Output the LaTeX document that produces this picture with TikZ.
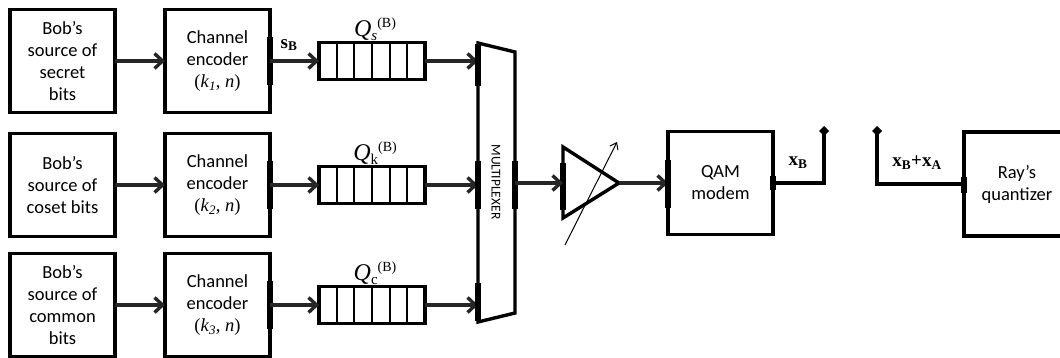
\documentclass[tikz,border=0pt]{standalone}
\usepackage{fontspec}
\setmainfont{Carlito}
\newfontfamily\serif{Liberation Serif}
\usetikzlibrary{arrows.meta}
\newcommand{\qlab}[1]{{\serif\fontsize{24}{24}\selectfont\itshape Q}\raisebox{-4pt}{\serif\fontsize{15}{15}\selectfont #1}\raisebox{9pt}{\serif\fontsize{14}{14}\selectfont(B)}}
\tikzset{
  box/.style={draw, line width=3.4pt, minimum width=105pt, minimum height=103pt, inner sep=0pt, outer sep=0pt, align=center, font=\fontsize{18.5}{22}\selectfont},
  queue/.style={draw, line width=3.4pt, minimum width=106pt, minimum height=37pt, inner sep=0pt, outer sep=0pt},
  link/.style={-{Straight Barb[length=8pt,width=15pt]}, line width=3.4pt, draw=black!85},
  port/.style={line width=6.5pt},
  lbl/.style={font=\serif\fontsize{19}{19}\selectfont\bfseries, inner sep=0pt},
}

\begin{document}
\begin{tikzpicture}[x=1pt, y=-1pt]
  \useasboundingbox (0,0) rectangle (1060,358);
  \foreach \y/\src/\sub [count=\r] in {61/{Bob’s\\source of\\secret\\bits}/{\itshape s}, 185/{Bob’s\\source of\\coset bits}/k, 305/{Bob’s\\source of\\common\\bits}/c}{
    \node[box] (src\r) at (62.5,\y) {\src};
    \node[box] (enc\r) at (217.5,\y) {Channel\\encoder\\{\serif(\textit{k}\textsubscript{\textit{\r}}, \textit{n})}};
    \node[queue] (q\r) at (372,\y) {};
    \foreach \i in {1,...,5}
      \draw[line width=1.8pt] ([xshift=\i*106/6*1pt]q\r.north west) -- ([xshift=\i*106/6*1pt]q\r.south west);
    \node[inner sep=0pt] (ql\r) at (375,\y-32) {\qlab{\sub}};
    \coordinate (mux-in\r) at (478,\y);
    \draw[port] (270,\y-24) -- (270,\y+24);
    \draw[link] (src\r) -- (enc\r);
    \draw[link] (enc\r) -- (q\r);
    \draw[link] (q\r) -- (mux-in\r);
  }
  \node[lbl] (sb) at (289,45) {s\textsubscript{B}};

  \draw[line width=3.4pt] (478,43) -- (515,52) -- (515,313) -- (478,322) -- cycle;
  \node[rotate=-90, font=\fontsize{13.5}{13.5}\selectfont] (muxlbl) at (496,182) {MULTIPLEXER};
  \coordinate (mux-out) at (515,183);
  \draw[port] (478,44) -- (478,86);
  \draw[port] (478,161) -- (478,209);
  \draw[port] (478,283) -- (478,321);
  \draw[port] (515,161) -- (515,209);

  \coordinate (amp-in) at (563,183);
  \coordinate (amp-out) at (619,183);
  \draw[line width=3.4pt] (563,147) -- (amp-out) -- (563,218) -- cycle;
  \draw[port] (563,163) -- (563,210);
  \draw[-{Straight Barb[length=6pt,width=9pt]}, line width=1pt] (565,245) -- (617,142);
  \draw[link] (mux-out) -- (amp-in);

  \node[box] (qam) at (720.5,183) {QAM\\modem};
  \draw[link] (amp-out) -- (qam);
  \draw[port] (668,160) -- (668,208);
  \draw[port] (773,176) -- (773,190);
  \coordinate (ant1) at (824,126);
  \draw[line width=3.4pt, -{Diamond[length=10pt,width=10pt]}] (qam.east) -| (ant1);
  \node[lbl] (xb) at (798,163) {x\textsubscript{B}};

  \node[box, minimum width=106pt, minimum height=104pt] (ray) at (1017,184) {Ray’s\\quantizer};
  \coordinate (ant2) at (877,126);
  \draw[line width=3.4pt, {Diamond[length=10pt,width=10pt]}-] (ant2) |- (ray);
  \draw[port] (964,177) -- (964,193);
  \node[lbl] (xba) at (917,163) {x\textsubscript{B}+x\textsubscript{A}};
\end{tikzpicture}
\end{document}
